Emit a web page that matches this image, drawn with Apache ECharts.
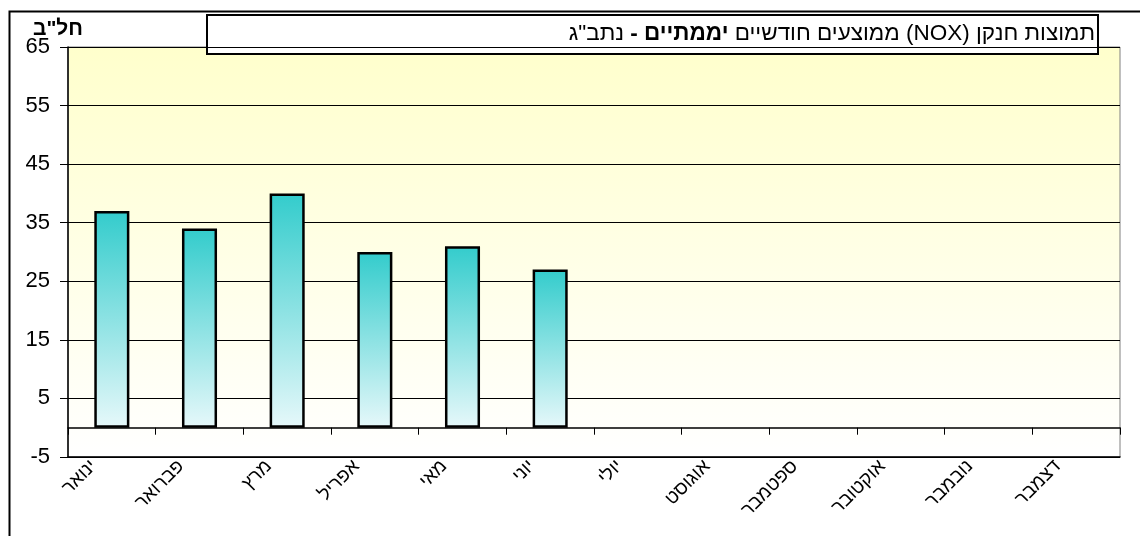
<!DOCTYPE html>
<html><head><meta charset="utf-8">
<script src="https://cdn.jsdelivr.net/npm/echarts@6/dist/echarts.min.js"></script>
<style>html,body{margin:0;padding:0;background:#fff}#c{width:1140px;height:536px}</style>
</head><body><div id="c"></div>
<script>
// ---- data ----
const categories = ['ינואר','פברואר','מרץ','אפריל','מאי','יוני','יולי','אוגוסט','ספטמבר','אוקטובר','נובמבר','דצמבר'];
const values = [37, 34, 40, 30, 31, 27, null, null, null, null, null, null];
const yMin = -5, yMax = 65, yStep = 10;
const unitLabel = 'חל"ב';
// title words in visual order (left to right); style key: n = normal, b = bold
const titleWords = [['נתב"ג','n'],['-','b'],['יממתיים','b'],['חודשיים','n'],['ממוצעים','n'],['(NOX)','n'],['חנקן','n'],['תמוצות','n']];

const FONT = 'Liberation Sans, Arial, sans-serif';
const titleText = titleWords.map(w => '{' + w[1] + '|' + w[0] + '}').join('{n| }');

const chart = echarts.init(document.getElementById('c'), null, {renderer:'canvas'});
chart.setOption({
  animation: false,
  backgroundColor: '#fff',
  grid: {
    left: 68, right: 20, top: 47, bottom: 79,
    show: true,
    borderColor: '#808080', borderWidth: 1,
    backgroundColor: {type:'linear', x:0, y:0, x2:0, y2:1,
      colorStops:[{offset:0, color:'#FFFFCC'},{offset:1, color:'#FFFFFF'}]}
  },
  title: {
    text: titleText,
    right: 45, top: 22, padding: 0,
    textStyle: {
      fontSize: 22.5, fontFamily: FONT, color:'#000', fontWeight:'normal',
      rich: {
        n: {fontSize:22.5, fontFamily: FONT, color:'#000', fontWeight:'normal'},
        b: {fontSize:22.5, fontFamily: FONT, color:'#000', fontWeight:'bold'}
      }
    }
  },
  graphic: [
    {type:'rect', left: 7, top: 9, z: 100, silent: true,
     shape:{x:0, y:0, width:1160, height:560},
     style:{fill:'none', stroke:'#000', lineWidth:2}},
    {type:'rect', z: 0, silent: true,
     shape:{x:207, y:15, width:891, height:39},
     style:{fill:'#fff', stroke:'#000', lineWidth:2}},
    {type:'text', z: 100, silent: true, x: 58, y: 29,
     style:{text: unitLabel, fill:'#000', font:'bold 21px ' + FONT, textAlign:'center', textVerticalAlign:'middle'}}
  ],
  xAxis: [
    {
      type:'category', data: categories, position:'bottom',
      axisLine:{show:true, onZero:true, lineStyle:{color:'#000', width:1.5}},
      axisTick:{show:true, length:7, lineStyle:{color:'#000', width:1}},
      axisLabel:{show:false},
      splitLine:{show:false}
    },
    {
      type:'category', data: categories, position:'bottom',
      axisLine:{show:true, onZero:false, lineStyle:{color:'#000', width:1.5}},
      axisTick:{show:false},
      axisLabel:{
        show:true, rotate:45, margin:-12, interval:0,
        formatter: v => '{a|' + v + '}',
        rich:{a:{fontSize:19, fontFamily:FONT, color:'#000', padding:[0,26,0,0]}}
      },
      splitLine:{show:false}
    }
  ],
  yAxis: {
    type:'value', min: yMin, max: yMax, interval: yStep,
    axisLine:{show:true, onZero:false, lineStyle:{color:'#000', width:1.5}},
    axisTick:{show:true, length:8, lineStyle:{color:'#000'}},
    axisLabel:{margin:18, fontSize:22, fontFamily:FONT, color:'#000'},
    splitLine:{show:true, lineStyle:{color:'#000', width:1}}
  },
  series: [{
    type:'bar', data: values, xAxisIndex:0, barWidth:'40%',
    itemStyle:{
      borderColor:'#000', borderWidth:2.5,
      color:{type:'linear', x:0, y:0, x2:0, y2:1,
        colorStops:[{offset:0, color:'#33CCCC'},{offset:1, color:'#E6F8FA'}]}
    }
  }]
});
</script></body></html>
